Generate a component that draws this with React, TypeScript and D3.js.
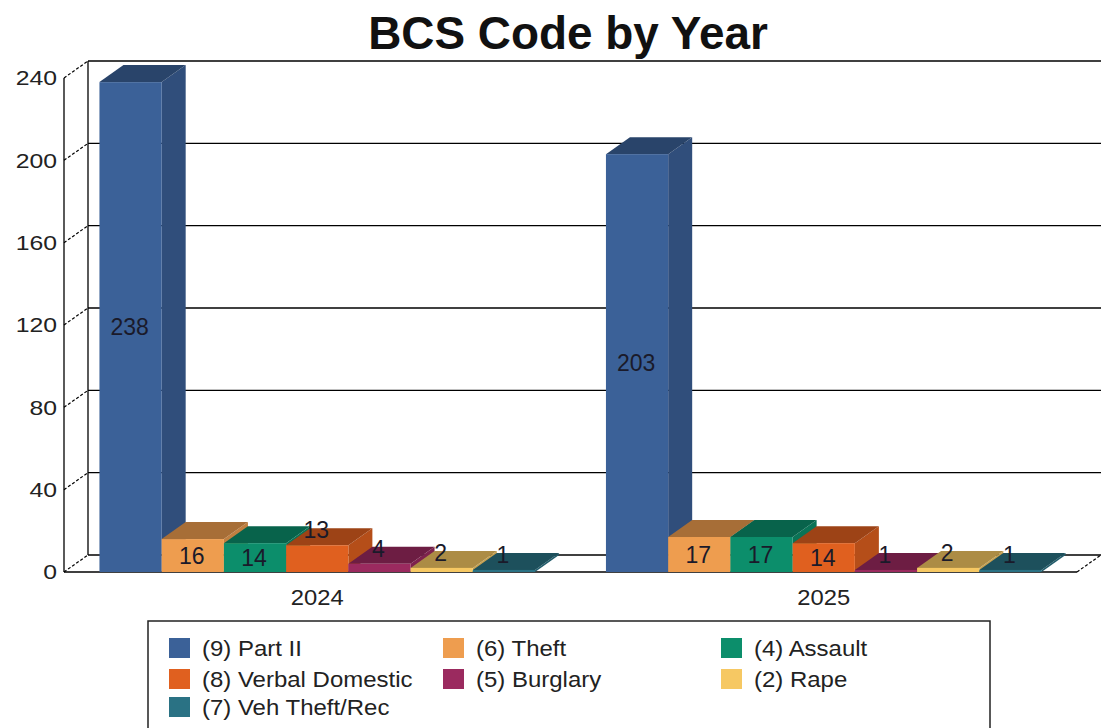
import React from "react";
import * as d3 from "d3";

const years = ["2024", "2025"];
const seriesNames = [
  "(9) Part II",
  "(6) Theft",
  "(4) Assault",
  "(8) Verbal Domestic",
  "(5) Burglary",
  "(2) Rape",
  "(7) Veh Theft/Rec",
];
const values2024 = [238, 16, 14, 13, 4, 2, 1];
const values2025 = [203, 17, 17, 14, 1, 2, 1];
const yTicks = [0, 40, 80, 120, 160, 200, 240];
const seriesColors = ["#3B6198", "#EE9D4F", "#0C8E6B", "#E0601F", "#9B2A5F", "#F6C863", "#2A7284"];

const valuesByYear: Record<string, number[]> = { "2024": values2024, "2025": values2025 };

const FONT = "'Liberation Sans', Arial, sans-serif";

function SText(props: {
  x: number;
  y: number;
  sx: number;
  size: number;
  anchor?: string;
  fill?: string;
  children: any;
}) {
  const { x, y, sx, size, anchor = "start", fill = "#222", children } = props;
  return (
    <text
      transform={`translate(${x},${y}) scale(${sx},1)`}
      textAnchor={anchor}
      dominantBaseline="central"
      fontSize={size}
      fill={fill}
    >
      {children}
    </text>
  );
}

export default function App() {
  const W = 1104;
  const H = 728;
  const DX = 24;
  const DY = 17;

  const y = d3.scaleLinear().domain([0, 240]).range([572, 78]);
  const x0 = d3.scaleBand<string>().domain(years).range([64, 1077]).paddingInner(0.14).paddingOuter(0.07);
  const x1 = d3.scaleBand<string>().domain(seriesNames).range([0, x0.bandwidth()]).padding(0);

  const xL = 64;
  const xR = 1077;
  const y0 = y(0);

  const bars: any[] = [];
  years.forEach((yr) => {
    seriesNames.forEach((s, i) => {
      const v = valuesByYear[yr][i];
      const bx = (x0(yr) as number) + (x1(s) as number);
      const bw = x1.bandwidth();
      const top = y(v);
      bars.push({ key: yr + s, bx, bw, top, v, color: seriesColors[i] });
    });
  });

  const legendCols = [169, 443, 721];
  const legendRows = [648, 679, 707];

  return (
    <svg
      width={W}
      height={H}
      style={{ position: "absolute", left: 0, top: 0, background: "#fff" }}
      fontFamily={FONT}
    >
      <rect x={0} y={0} width={W} height={H} fill="#fff" />
      <text
        transform={`translate(568,49) scale(1.02,1.04)`}
        textAnchor="middle"
        fontSize={45}
        fontWeight="bold"
        fill="#111"
      >
        BCS Code by Year
      </text>

      {/* back wall gridlines */}
      {yTicks.map((t) => (
        <g key={"g" + t}>
          <line x1={xL + DX} x2={xR + DX} y1={y(t) - DY} y2={y(t) - DY} stroke="#000" strokeWidth={1.3} />
          <line
            x1={xL}
            y1={y(t)}
            x2={xL + DX}
            y2={y(t) - DY}
            stroke="#000"
            strokeWidth={1.2}
            strokeDasharray="3,2"
          />
          <SText x={57} y={y(t)} sx={1.18} size={21} anchor="end">
            {t}
          </SText>
        </g>
      ))}
      {/* walls */}
      <line x1={xL + DX} x2={xL + DX} y1={y(240) - DY} y2={y0 - DY} stroke="#000" strokeWidth={1.3} />
      <line x1={xL} x2={xL} y1={y(240)} y2={y0} stroke="#000" strokeWidth={1.3} />
      <line x1={xL} x2={xR} y1={y0} y2={y0} stroke="#000" strokeWidth={1.3} />
      <line x1={xR} y1={y0} x2={xR + DX} y2={y0 - DY} stroke="#000" strokeWidth={1.2} strokeDasharray="3,2" />

      {/* bars */}
      {bars.map((b) => {
        const side = d3.color(b.color)!.darker(0.6).formatHex();
        const topc = d3.color(b.color)!.darker(1.0).formatHex();
        const r = b.bx + b.bw;
        return (
          <g key={b.key}>
            <polygon
              points={`${r},${b.top} ${r + DX},${b.top - DY} ${r + DX},${y0 - DY} ${r},${y0}`}
              fill={side}
            />
            <polygon
              points={`${b.bx},${b.top} ${b.bx + DX},${b.top - DY} ${r + DX},${b.top - DY} ${r},${b.top}`}
              fill={topc}
            />
            <rect x={b.bx} y={b.top} width={b.bw} height={Math.max(0, y0 - b.top)} fill={b.color} />
          </g>
        );
      })}

      {/* value labels */}
      {bars.map((b) => {
        const h = y0 - b.top;
        const ly = h >= 28 ? b.top + h / 2 : b.top - 15;
        return (
          <SText key={"l" + b.key} x={b.bx + b.bw / 2 - 1} y={ly} sx={1.0} size={23} anchor="middle" fill="#1a1a2a">
            {b.v}
          </SText>
        );
      })}

      {/* year labels */}
      {years.map((yr) => (
        <SText key={"x" + yr} x={(x0(yr) as number) + x0.bandwidth() / 2} y={597} sx={1.08} size={22} anchor="middle">
          {yr}
        </SText>
      ))}

      {/* legend */}
      <rect x={148} y={621} width={842} height={130} fill="#fff" stroke="#222" strokeWidth={1.5} />
      {seriesNames.map((s, i) => {
        const cx = legendCols[i % 3];
        const cy = legendRows[Math.floor(i / 3)];
        return (
          <g key={"lg" + s}>
            <rect x={cx} y={cy - 10} width={21} height={20} fill={seriesColors[i]} />
            <SText x={cx + 33} y={cy} sx={1.09} size={22}>
              {s}
            </SText>
          </g>
        );
      })}
    </svg>
  );
}
